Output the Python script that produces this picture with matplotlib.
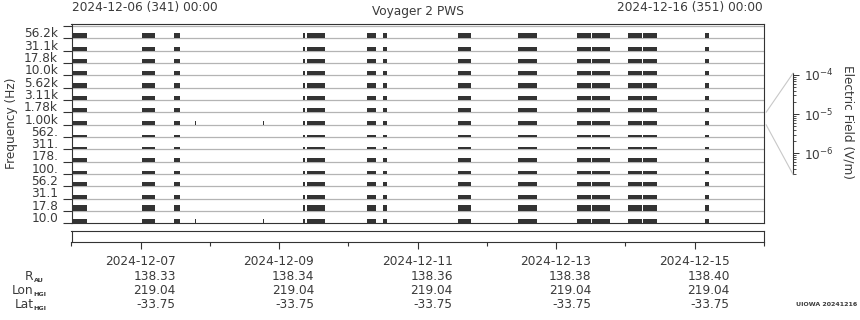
#!/usr/bin/env python3
"""
Voyager 2 PWS daily-ish summary spectrogram, 2024-12-06 .. 2024-12-16.
"""

from datetime import datetime

import matplotlib
matplotlib.use('Agg')
import matplotlib.pyplot as plt
import matplotlib.dates as mdates
import matplotlib.ticker as ticker
import matplotlib.transforms as mtransforms
from matplotlib.patches import ConnectionPatch

# ---- data -----------------------------------------------------------------
start_time = datetime(2024, 12, 6)
n_days = 10

# frequency channel labels, bottom channel first
freq_labels = ['10.0', '17.8', '31.1', '56.2', '100.', '178.', '311.', '562.',
               '1.00k', '1.78k', '3.11k', '5.62k', '10.0k', '17.8k', '31.1k', '56.2k']

# data coverage intervals, hours after start (present in every channel)
seg_start_h = [0.0, 24.4, 35.5, 80.2, 81.6, 102.4, 108.0, 134.0, 154.8,
               175.2, 180.4, 192.9, 198.2, 219.5]
seg_end_h = [5.3, 28.9, 37.6, 80.8, 87.9, 105.4, 109.3, 138.5, 161.3,
             180.0, 186.7, 197.8, 203.0, 220.9]

# short isolated samples, only seen in a couple of channels
spike_h = [42.8, 66.4]
spike_len_h = 0.35
spike_channels = [0, 8]

# ephemeris rows under the time axis (one value per labelled day)
label_days = [7, 9, 11, 13, 15]
r_au = ['138.33', '138.34', '138.36', '138.38', '138.40']
lon_hgi = ['219.04', '219.04', '219.04', '219.04', '219.04']
lat_hgi = ['-33.75', '-33.75', '-33.75', '-33.75', '-33.75']

# electric field colour bar range (V/m)
efield_min = 2.9e-7
efield_max = 1.1e-4
# ----------------------------------------------------------------------------

# drawn fill height of each channel band (fraction of channel), bottom first
band_fill = [0.35, 0.46, 0.27, 0.35, 0.22, 0.27, 0.22, 0.15,
             0.33, 0.35, 0.30, 0.38, 0.33, 0.35, 0.33, 0.40]

W, H = 860, 320
DARK = '#333333'
TXT = '#3a3a3a'
FS = 8.7

plt.rcParams['font.family'] = 'DejaVu Sans'
plt.rcParams['mathtext.fontset'] = 'dejavusans'


def fx(px):
    return px / W


def fy(py):
    return 1 - py / H


fig = plt.figure(figsize=(W / 100, H / 100), dpi=100)

left_px, right_px = 71.5, 764
ax = fig.add_axes([fx(left_px), fy(223.3), (right_px - left_px) / W, (223.3 - 23.7) / H])
ax2 = fig.add_axes([fx(left_px), fy(242.3), (right_px - left_px) / W, 11.3 / H])
cax = fig.add_axes([fx(793), fy(174.3), 0.0001, (174.3 - 73.3) / H])

t0 = mdates.date2num(start_time)
t1 = t0 + n_days
n_ch = len(freq_labels)

# Channel separators
for i in range(1, n_ch + 1):
    ax.axhline(i, color='#b4b4b4', linewidth=0.9, zorder=1)

# Data blocks
bars = [(t0 + s / 24, (e - s) / 24) for s, e in zip(seg_start_h, seg_end_h)]
for ch in range(n_ch):
    ax.broken_barh(bars, (ch, band_fill[ch]), facecolor=DARK, edgecolor='none', zorder=2)
for ch in spike_channels:
    ax.broken_barh([(t0 + s / 24, spike_len_h / 24) for s in spike_h],
                   (ch, band_fill[ch]), facecolor=DARK, edgecolor='none', zorder=2)

ax.set_xlim(t0, t1)
ax.set_ylim(0, n_ch + 0.19)
ax.set_xticks([])
ax.yaxis.set_major_locator(ticker.FixedLocator(range(n_ch + 1)))
ax.yaxis.set_major_formatter(ticker.NullFormatter())
ax.yaxis.set_minor_locator(ticker.FixedLocator([i + 0.5 for i in range(n_ch)]))
ax.yaxis.set_minor_formatter(ticker.FixedFormatter(freq_labels))
ax.tick_params(axis='y', which='major', length=6.5, width=0.8, color=DARK, direction='out')
ax.tick_params(axis='y', which='minor', length=0, pad=9.6, labelsize=FS, labelcolor=TXT)
fig.text(fx(12), fy(123.5), 'Frequency (Hz)', rotation=90, ha='center', va='center',
         fontsize=FS, color=TXT)

for a in (ax, ax2):
    for sp in a.spines.values():
        sp.set_color(DARK)
        sp.set_linewidth(0.8)

# Second (empty) strip with the day ticks
ax2.set_xlim(t0, t1)
ax2.set_yticks([])
ax2.xaxis.set_major_locator(mdates.DayLocator(bymonthday=label_days))
ax2.xaxis.set_minor_locator(mdates.DayLocator())
ax2.xaxis.set_major_formatter(ticker.NullFormatter())
ax2.tick_params(axis='x', which='major', length=5, width=0.8, color=DARK)
ax2.tick_params(axis='x', which='minor', length=2.9, width=0.8, color=DARK)

# Tick-aligned text rows (right edge ~35 px right of each tick)
row_tr = mtransforms.blended_transform_factory(ax2.transData, fig.transFigure)
row_tr = mtransforms.offset_copy(row_tr, fig=fig, x=35, y=0, units='dots')
rows = [
    (261.7, [datetime(2024, 12, d).strftime('%Y-%m-%d') for d in label_days]),
    (276.7, r_au),
    (291.0, lon_hgi),
    (305.0, lat_hgi),
]
for ypx, vals in rows:
    for d, v in zip(label_days, vals):
        xd = mdates.date2num(datetime(2024, 12, d))
        fig.text(xd, fy(ypx), v, transform=row_tr, ha='right', va='center',
                 fontsize=FS, color=TXT)

for ypx, main, sub in [(276.7, 'R', 'AU'), (291.0, 'Lon', 'HGI'), (305.0, 'Lat', 'HGI')]:
    fig.text(fx(33.5), fy(ypx), main, ha='right', va='center', fontsize=FS, color=TXT)
    fig.text(fx(33.8), fy(ypx + 4), sub, ha='left', va='center', fontsize=4.6,
             fontweight='bold', color=TXT)

# Header texts
fig.text(fx(72), fy(8), start_time.strftime('%Y-%m-%d (%j) %H:%M'),
         ha='left', va='center', fontsize=FS, color=TXT)
end_time = mdates.num2date(t1).replace(tzinfo=None)
fig.text(fx(763), fy(8), end_time.strftime('%Y-%m-%d (%j) %H:%M'),
         ha='right', va='center', fontsize=FS, color=TXT)
fig.text(fx((left_px + right_px) / 2), fy(11), 'Voyager 2 PWS',
         ha='center', va='center', fontsize=FS, color=TXT)

# Electric field scale (axis line only)
cax.set_yscale('log')
cax.set_ylim(efield_min, efield_max)
cax.set_xticks([])
for side in ('right', 'top', 'bottom'):
    cax.spines[side].set_visible(False)
cax.spines['left'].set_color(DARK)
cax.spines['left'].set_linewidth(0.8)
cax.yaxis.tick_right()
cax.yaxis.set_major_locator(ticker.LogLocator(base=10, numticks=10))
cax.yaxis.set_minor_locator(ticker.LogLocator(base=10, subs=range(2, 10), numticks=10))
cax.yaxis.set_minor_formatter(ticker.NullFormatter())
cax.tick_params(axis='y', which='major', length=4, width=0.7, color=DARK,
                labelsize=FS, labelcolor=TXT, pad=4)
cax.tick_params(axis='y', which='minor', length=2.2, width=0.6, color=DARK)
fig.text(fx(848), fy(122), 'Electric Field (V/m)', rotation=270,
         ha='center', va='center', fontsize=FS, color=TXT)

# zoom lines from the 1.00k channel to the scale
for ych, ycb in [(9, 1), (8, 0)]:
    con = ConnectionPatch(xyA=(1.003, ych), coordsA=ax.get_yaxis_transform(),
                          xyB=(0, ycb), coordsB=cax.transAxes,
                          color='#c8c8c8', linewidth=0.8)
    fig.add_artist(con)

fig.text(fx(796), fy(305), 'UIOWA 20241216', ha='left', va='center',
         fontsize=4.5, fontweight='bold', color=TXT)

fig.savefig('out.png', dpi=100)
plt.close(fig)
